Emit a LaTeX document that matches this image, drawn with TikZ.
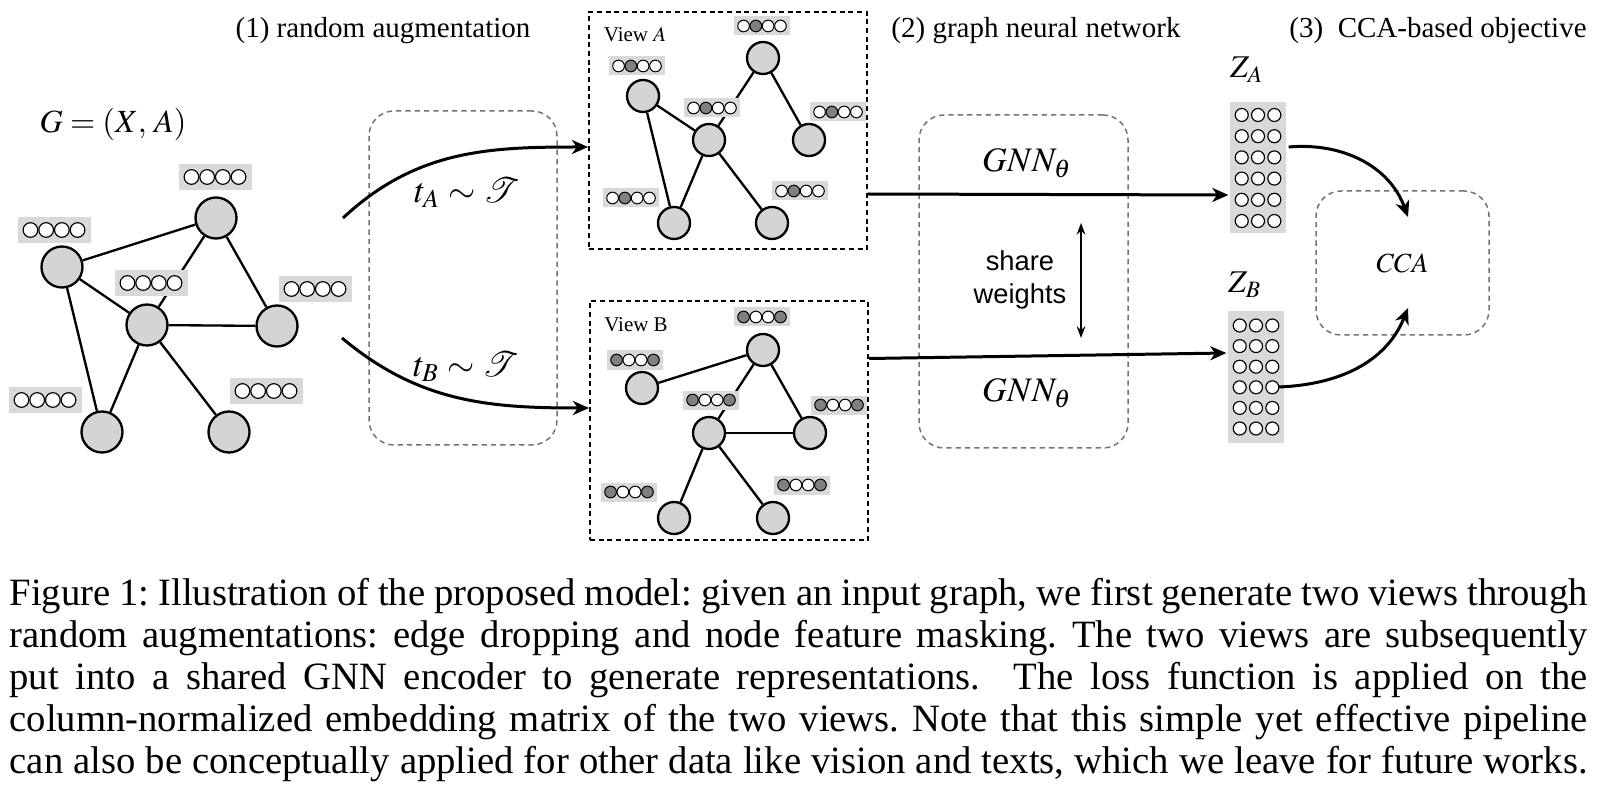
\documentclass[tikz,border=0pt]{standalone}
\usepackage{mathptmx}
\usepackage{fontspec}
\setmainfont{Liberation Serif}
\setsansfont{Liberation Sans}
\usepackage{tikz}
\usetikzlibrary{shapes, arrows, arrows.meta, calc, positioning}

\definecolor{nodegray}{gray}{0.83}
\definecolor{featgray}{gray}{0.85}
\definecolor{maskgray}{gray}{0.5}
\definecolor{boxgray}{gray}{0.45}

\tikzset{
    gnode/.style={draw, circle, fill=nodegray, line width=0.7pt, inner sep=0pt, minimum size=12.3pt},
    vnode/.style={gnode, minimum size=9.6pt},
    link/.style={line width=0.7pt},
    featbg/.style={fill=featgray, inner sep=0pt},
    bigdot/.style={draw, circle, fill=white, line width=0.35pt, inner sep=0pt, minimum size=4.4pt},
    smalldot/.style={draw, circle, line width=0.3pt, inner sep=0pt, minimum size=3.5pt},
    zdot/.style={bigdot, minimum size=3.9pt},
    viewbox/.style={draw, line width=0.6pt, dash pattern=on 1.5pt off 1.1pt, inner sep=0pt},
    gbox/.style={draw=boxgray, line width=0.45pt, dash pattern=on 1.6pt off 1.2pt, rounded corners=7.5pt, inner sep=0pt},
    bigarrow/.style={line width=0.9pt, -{Stealth[length=4.8pt, width=4.2pt, inset=1.4pt]}},
    headtext/.style={font=\fontsize{8.7}{10}\selectfont},
}

% feature vector of the input graph (all entries kept)
\newcommand{\featbig}[2]{%
    \node[featbg, minimum width=21.9pt, minimum height=7.8pt] (#1) at (#2) {};
    \foreach \k in {0,...,3}
        \node[bigdot] at ($(#1)+(\k*15.7-23.55,0)$) {};
}
% feature vector of an augmented view, #3 = fill of each entry
\newcommand{\featsmall}[3]{%
    \node[featbg, minimum width=16.8pt, minimum height=5.7pt] (#1) at (#2) {};
    \foreach \f [count=\k from 0] in {#3}
        \node[smalldot, fill=\f] at ($(#1)+(\k*12.3-18.45,0)$) {};
}

\begin{document}
\begin{tikzpicture}[x=0.3pt, y=-0.3pt]

            \useasboundingbox (0,0) rectangle (1599,794);

            % stage titles
            \node[headtext] (head1) at (383,31) {(1) random augmentation};
            \node[headtext] (head2) at (1036,31) {(2) graph neural network};
            \node[headtext] (head3) at (1438,31) {(3)\ \ CCA-based objective};

            % input graph
            \node[font=\fontsize{9.7}{12}\selectfont] (glabel) at (113,124) {$G=(X,\,A)$};

            \node[gnode] (n1) at (62,267) {};
            \node[gnode] (n2) at (216,218) {};
            \node[gnode] (n3) at (147,325) {};
            \node[gnode] (n4) at (277,326) {};
            \node[gnode] (n5) at (102,432) {};
            \node[gnode] (n6) at (229,432) {};

            \draw[link] (n1) -- (n2);
            \draw[link] (n1) -- (n3);
            \draw[link] (n1) -- (n5);
            \draw[link] (n2) -- (n3);
            \draw[link] (n2) -- (n4);
            \draw[link] (n3) -- (n4);
            \draw[link] (n3) -- (n5);
            \draw[link] (n3) -- (n6);

            \featbig{f1}{54,230}
            \featbig{f2}{215,177}
            \featbig{f3}{151,283}
            \featbig{f4}{315,289}
            \featbig{f5}{45,400}
            \featbig{f6}{266,391}

            % view A
            \node[viewbox, minimum width=83.4pt, minimum height=71.1pt] (viewA) at (728,130.5) {};
            \node[font=\fontsize{6.3}{7.5}\selectfont] (labA) at (635,35) {View $A$};

            \node[vnode] (a1) at (643,96) {};
            \node[vnode] (a2) at (763,58) {};
            \node[vnode] (a3) at (709,140) {};
            \node[vnode] (a4) at (809,140) {};
            \node[vnode] (a5) at (674,223) {};
            \node[vnode] (a6) at (772,223) {};

            \draw[link] (a1) -- (a3);
            \draw[link] (a1) -- (a5);
            \draw[link] (a2) -- (a3);
            \draw[link] (a2) -- (a4);
            \draw[link] (a3) -- (a5);
            \draw[link] (a3) -- (a6);

            \featsmall{fa1}{637,66}{white,maskgray,white,white}
            \featsmall{fa2}{762,26}{white,maskgray,white,white}
            \featsmall{fa3}{712,108}{white,maskgray,white,white}
            \featsmall{fa4}{838,112}{white,maskgray,white,white}
            \featsmall{fa5}{631,198}{white,maskgray,white,white}
            \featsmall{fa6}{800,191}{white,maskgray,white,white}

            % view B
            \node[viewbox, minimum width=83.4pt, minimum height=71.7pt] (viewB) at (729,420.5) {};
            \node[font=\fontsize{6.3}{7.5}\selectfont] (labB) at (636,325) {View B};

            \node[vnode] (b1) at (642,388) {};
            \node[vnode] (b2) at (763,350) {};
            \node[vnode] (b3) at (709,433) {};
            \node[vnode] (b4) at (810,433) {};
            \node[vnode] (b5) at (674,518) {};
            \node[vnode] (b6) at (773,518) {};

            \draw[link] (b1) -- (b2);
            \draw[link] (b2) -- (b3);
            \draw[link] (b2) -- (b4);
            \draw[link] (b3) -- (b4);
            \draw[link] (b3) -- (b5);
            \draw[link] (b3) -- (b6);

            \featsmall{fb1}{635,360}{maskgray,white,white,maskgray}
            \featsmall{fb2}{762,317}{maskgray,white,white,maskgray}
            \featsmall{fb3}{711,400}{maskgray,white,white,maskgray}
            \featsmall{fb4}{839,405}{maskgray,white,white,maskgray}
            \featsmall{fb5}{629,492}{maskgray,white,white,maskgray}
            \featsmall{fb6}{802,485}{maskgray,white,white,maskgray}

            % augmentation
            \node[gbox, minimum width=56.4pt, minimum height=100.2pt] (aug) at (463,278) {};
            \coordinate (augA) at (343,218);
            \coordinate (augB) at (342,338);
            \draw[bigarrow] (augA) to[out=43, in=180] ($(viewA.west)+(0,16.5)$);
            \draw[bigarrow] (augB) to[out=-40, in=180] ($(viewB.west)+(0,-12.5)$);
            \node[font=\fontsize{10.5}{12}\selectfont] (tA) at (467,193) {$t_A\sim\mathcal{T}$};
            \node[font=\fontsize{10.5}{12}\selectfont] (tB) at (466,367) {$t_B\sim\mathcal{T}$};

            % encoder
            \node[gbox, minimum width=62.7pt, minimum height=99.9pt] (gnn) at (1023.5,281.5) {};
            \node[font=\fontsize{10.3}{12}\selectfont] (gnnA) at (1027,163) {$GNN_\theta$};
            \node[font=\fontsize{10.3}{12}\selectfont] (gnnB) at (1027,393) {$GNN_\theta$};
            \node[font=\sffamily\fontsize{8.2}{9.9}\selectfont, align=center] (share) at (1020,280) {share\\weights};
            \coordinate (swtop) at (1081,223);
            \coordinate (swbot) at (1081,338);
            \draw[line width=0.5pt, {Stealth[length=3.5pt, width=2.6pt]}-{Stealth[length=3.5pt, width=2.6pt]}] (swtop) -- (swbot);

            % embeddings
            \node[featbg, minimum width=16.8pt, minimum height=39.3pt] (ZA) at (1258,168) {};
            \node[featbg, minimum width=16.8pt, minimum height=39.3pt] (ZB) at (1256,377) {};
            \foreach \row in {0,...,5}
                \foreach \col in {0,1,2} {
                    \node[zdot] at ($(ZA)+(\col*16.3-16.3,\row*21.2-53)$) {};
                    \node[zdot] at ($(ZB)+(\col*16.3-16.3,\row*20.6-51.5)$) {};
                }
            \node[font=\fontsize{9.5}{11}\selectfont] (zAlab) at (1247,70) {$Z_A$};
            \node[font=\fontsize{9.5}{11}\selectfont] (zBlab) at (1245,285) {$Z_B$};

            \draw[bigarrow] ($(viewA.east)+(0,63.5)$) -- ($(ZA.west)+(-1,27)$);
            \draw[bigarrow] ($(viewB.east)+(0,-62)$) -- ($(ZB.west)+(-1,-24)$);

            % objective
            \node[gbox, minimum width=51.9pt, minimum height=43.2pt, font=\fontsize{8.3}{10}\selectfont] (cca) at (1402.5,263) {$CCA$};
            \draw[bigarrow] ($(ZA.east)+(2,-21)$) to[out=5, in=110] ($(cca.center)+(5.5,-46)$);
            \draw[bigarrow] ($(ZB.center)+(22,10)$) to[out=2, in=-112] ($(cca.center)+(5.5,45)$);

            % caption
            \node[anchor=base west, inner sep=0pt] (caption) at (9,605) {\parbox[t]{473.4pt}{%
                \fontsize{11.6}{12.6}\selectfont\frenchspacing\parfillskip=0pt
                Figure 1: Illustration of the proposed model: given an input graph, we first generate two views through\linebreak
                random augmentations: edge dropping and node feature masking. The two views are subsequently\linebreak
                put into a shared GNN encoder to generate representations.\ \ The loss function is applied on the\linebreak
                column-normalized embedding matrix of the two views. Note that this simple yet effective pipeline\linebreak
                can also be conceptually applied for other data like vision and texts, which we leave for future works.}};

        \end{tikzpicture}
\end{document}
